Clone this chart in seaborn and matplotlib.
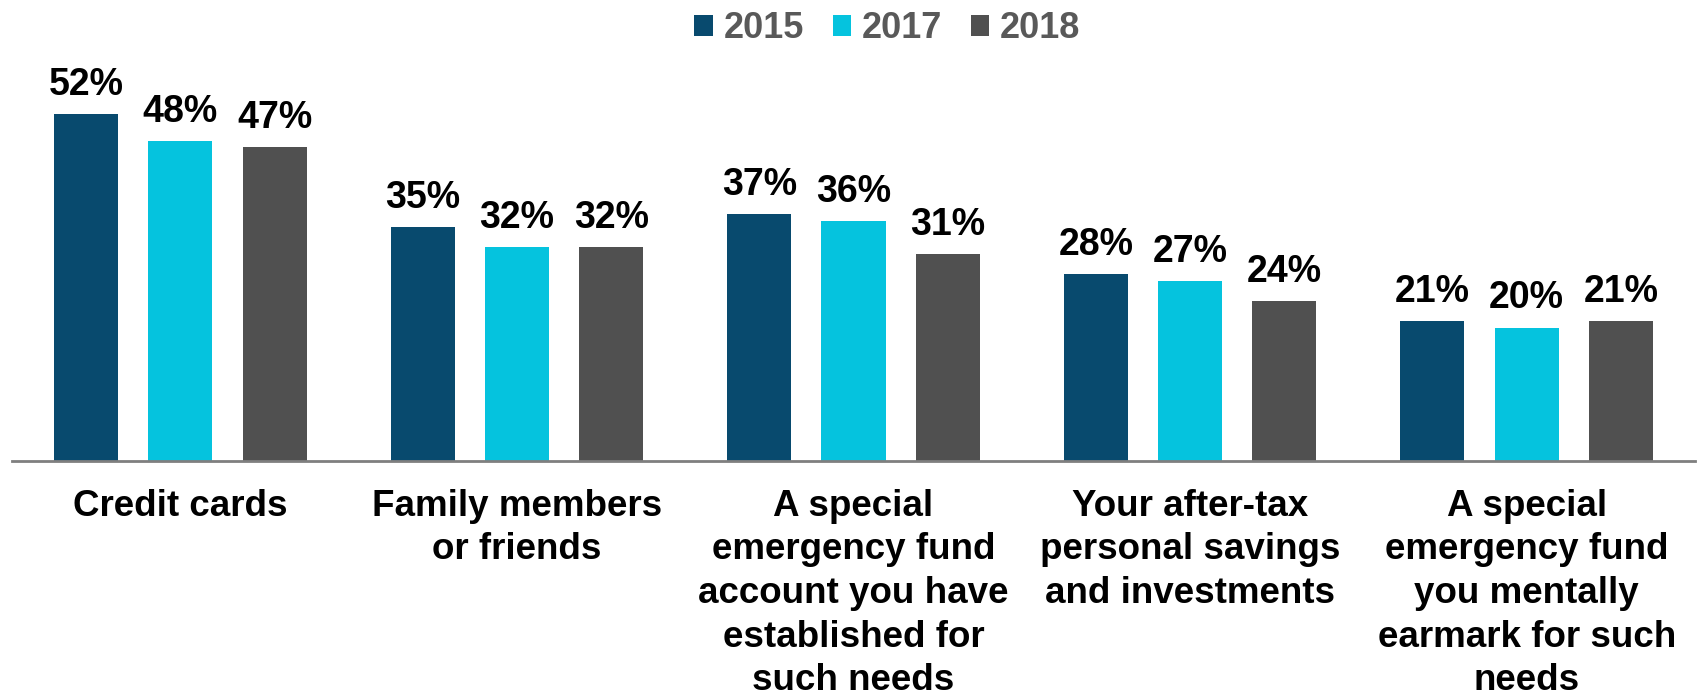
import matplotlib
matplotlib.use("Agg")
import matplotlib.pyplot as plt
from matplotlib.patches import Patch
import seaborn as sns
import pandas as pd

# Survey data: where people would go to cover an unexpected expense
categories = [
    "Credit cards",
    "Family members\nor friends",
    "A special\nemergency fund\naccount you have\nestablished for\nsuch needs",
    "Your after-tax\npersonal savings\nand investments",
    "A special\nemergency fund\nyou mentally\nearmark for such\nneeds",
]
years = ["2015", "2017", "2018"]
values_2015 = [52, 35, 37, 28, 21]
values_2017 = [48, 32, 36, 27, 20]
values_2018 = [47, 32, 31, 24, 21]
colors = ["#084A6E", "#05C3DE", "#505050"]

df = pd.DataFrame({
    "category": categories * 3,
    "year": [y for y in years for _ in categories],
    "value": values_2015 + values_2017 + values_2018,
})

sns.set_theme(style="white")
plt.rcParams["font.family"] = ["Liberation Sans", "DejaVu Sans"]

fig = plt.figure(figsize=(17.03, 7.0), dpi=100)
ax = fig.add_axes([12 / 1703, 0.3414, (1695 - 12) / 1703, 0.5243])

sns.barplot(data=df, x="category", y="value", hue="year", order=categories,
            hue_order=years, palette=colors, saturation=1, width=0.84, gap=0.32,
            linewidth=0, legend=False, ax=ax)

for container, vals in zip(ax.containers, [values_2015, values_2017, values_2018]):
    ax.bar_label(container, labels=[f"{v}%" for v in vals], padding=8,
                 fontsize=27, fontweight="bold", color="black", clip_on=False)

ax.set_xlim(-0.5, 4.5)
ax.set_ylim(0, 55)
ax.set_xlabel("")
ax.set_ylabel("")
ax.set_yticks([])
for side in ["top", "right", "left"]:
    ax.spines[side].set_visible(False)
ax.spines["bottom"].set_color("#7F7F7F")
ax.spines["bottom"].set_linewidth(2)
ax.tick_params(axis="x", length=0, pad=20)
for lbl in ax.get_xticklabels():
    lbl.set_fontsize(26.5)
    lbl.set_fontweight("bold")
    lbl.set_color("black")
    lbl.set_linespacing(1.32)
    lbl.set_multialignment("center")

handles = [Patch(facecolor=c, edgecolor="none", label=y) for c, y in zip(colors, years)]
leg = fig.legend(handles=handles, loc="center", bbox_to_anchor=(0.521, 0.959),
                 ncol=3, frameon=False, fontsize=26, handlelength=0.5,
                 handleheight=0.5, handletextpad=0.3, columnspacing=0.8,
                 borderaxespad=0, borderpad=0)
for t in leg.get_texts():
    t.set_color("#595959")
    t.set_fontweight("bold")

fig.savefig("out.png", dpi=100, facecolor="white")
